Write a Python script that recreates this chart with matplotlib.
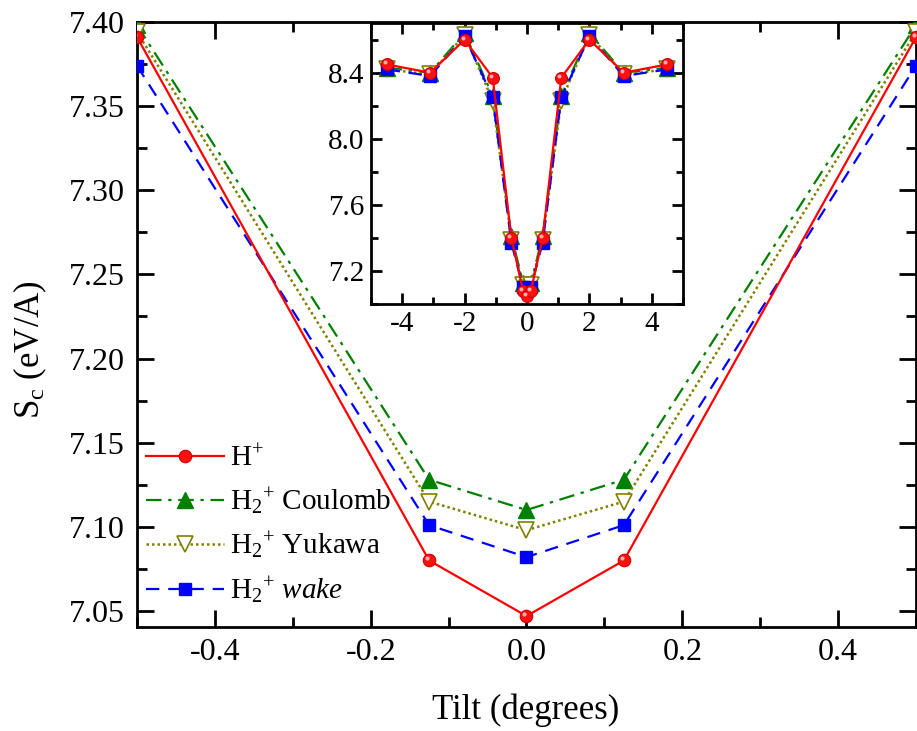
import numpy as np
import matplotlib
matplotlib.use('Agg')
import matplotlib.pyplot as plt
from matplotlib.ticker import MultipleLocator
from matplotlib.transforms import offset_copy

plt.rcParams['font.family'] = 'Liberation Serif'
plt.rcParams['mathtext.fontset'] = 'custom'
plt.rcParams['mathtext.rm'] = 'Liberation Serif'
plt.rcParams['mathtext.it'] = 'Liberation Serif:italic'

# main panel data
tilt = [-0.5, -0.125, 0.0, 0.125, 0.5]
sc_h = [7.391, 7.080, 7.047, 7.080, 7.391]
sc_coul = [7.398, 7.128, 7.110, 7.128, 7.398]
sc_yuk = [7.394, 7.115, 7.098, 7.115, 7.394]
sc_wake = [7.374, 7.101, 7.082, 7.101, 7.374]

# inset data
tilt_in = [-4.5, -3.1, -2.0, -1.1, -0.5, -0.125, 0.0, 0.125, 0.5, 1.1, 2.0, 3.1, 4.5]
in_h = [8.45, 8.40, 8.60, 8.37, 7.40, 7.080, 7.047, 7.080, 7.40, 8.37, 8.60, 8.40, 8.45]
in_coul = [8.43, 8.40, 8.64, 8.26, 7.41, 7.128, 7.110, 7.128, 7.41, 8.26, 8.64, 8.40, 8.43]
in_yuk = [8.42, 8.39, 8.63, 8.23, 7.39, 7.115, 7.098, 7.115, 7.39, 8.23, 8.63, 8.39, 8.42]
in_wake = [8.42, 8.38, 8.62, 8.25, 7.37, 7.101, 7.082, 7.101, 7.37, 8.25, 8.62, 8.38, 8.42]

labels = ['H$^{+}$', 'H$_{2}$$^{+}$ Coulomb', 'H$_{2}$$^{+}$ Yukawa',
          'H$_{2}$$^{+}$ $\\mathit{wake}$']


def draw(ax, x, ys, ms_scale=1.0):
    h, c, y, w = ys
    ax.plot(x, h, color='red', lw=1.6, ls='-', marker='o', ms=9 * ms_scale,
            mfc='#ff1010', mec='#d00000', mew=0.8, label=labels[0], zorder=4)
    # small highlight on the red balls
    hl = offset_copy(ax.transData, fig=ax.figure, x=-1.5, y=1.5, units='points')
    ax.plot(x, h, ls='none', marker='o', ms=3 * ms_scale, mfc='#ffb0b0', mec='none',
            transform=hl, zorder=5)
    ax.plot(x, c, color='#008000', lw=1.6, ls=(0, (7, 3, 1.5, 3)), marker='^',
            ms=11.5 * ms_scale, mfc='#008000', mec='#008000', label=labels[1], zorder=3)
    ax.plot(x, y, color='#808000', lw=1.8, ls=(0, (1, 1.2)), marker='v',
            ms=11.5 * ms_scale, mfc='white', mec='#808000', mew=1.2, label=labels[2], zorder=3)
    ax.plot(x, w, color='#0000ff', lw=1.6, ls=(0, (6, 4)), marker='s',
            ms=8.5 * ms_scale, mfc='#0000ff', mec='#0000ff', label=labels[3], zorder=3)


fig = plt.figure(figsize=(9.17, 7.31), dpi=100)
ax = fig.add_axes([0.1494, 0.1423, 0.8495, 0.8277])
draw(ax, tilt, [sc_h, sc_coul, sc_yuk, sc_wake])

ax.set_xlim(-0.5, 0.5)
ax.set_ylim(7.0405, 7.40)
ax.xaxis.set_minor_locator(MultipleLocator(0.1))
ax.yaxis.set_minor_locator(MultipleLocator(0.025))
ax.set_xticks([-0.4, -0.2, 0.0, 0.2, 0.4])
ax.set_xticklabels(['-0.4', '-0.2', '0.0', '0.2', '0.4'])
ax.set_yticks([7.05, 7.10, 7.15, 7.20, 7.25, 7.30, 7.35, 7.40])
ax.set_yticklabels(['7.05', '7.10', '7.15', '7.20', '7.25', '7.30', '7.35', '7.40'])
ax.tick_params(which='both', direction='in', top=True, right=True, width=2, labelsize=23)
ax.tick_params(which='major', length=12)
ax.tick_params(which='minor', length=7)
ax.tick_params(axis='x', pad=8)
ax.tick_params(axis='y', pad=9)
for s in ax.spines.values():
    s.set_linewidth(2)

fig.text(526 / 917, 1 - 710 / 731, 'Tilt (degrees)', ha='center', va='center', fontsize=25)
fig.text(30 / 917, 1 - 350 / 731, 'S$_{\\mathrm{c}}$ (eV/A)', ha='center', va='center',
         fontsize=25, rotation=90)

ax.legend(loc='upper left', bbox_to_anchor=(0.011, 0.300), frameon=False, fontsize=21,
          handlelength=2.7, handletextpad=0.2, labelspacing=0.45, borderpad=0,
          borderaxespad=0)

# inset
ins = fig.add_axes([0.4046, 0.584, 0.3402, 0.3844])
draw(ins, tilt_in, [in_h, in_coul, in_yuk, in_wake], ms_scale=0.95)
ins.set_xlim(-5, 5)
ins.set_ylim(7.0, 8.7)
ins.set_xticks([-4, -2, 0, 2, 4])
ins.set_xticklabels(['-4', '-2', '0', '2', '4'])
ins.xaxis.set_minor_locator(MultipleLocator(1))
ins.set_yticks([7.2, 7.6, 8.0, 8.4])
ins.set_yticklabels(['7.2', '7.6', '8.0', '8.4'])
ins.yaxis.set_minor_locator(MultipleLocator(0.2))
ins.tick_params(which='both', direction='in', top=True, right=True, width=2, labelsize=21)
ins.tick_params(which='major', length=8, pad=5)
ins.tick_params(which='minor', length=5)
for s in ins.spines.values():
    s.set_linewidth(2)

plt.savefig('out.png', dpi=100)
plt.close()
